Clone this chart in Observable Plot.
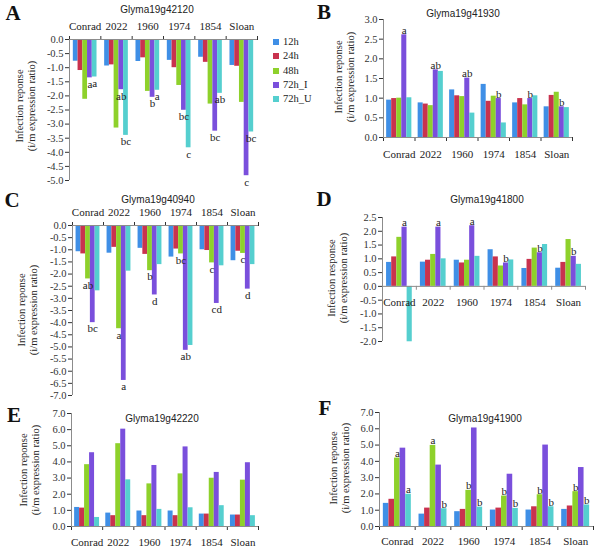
<!DOCTYPE html>
<html><head><meta charset="utf-8">
<script src="https://cdn.jsdelivr.net/npm/d3@7"></script>
<script src="https://cdn.jsdelivr.net/npm/@observablehq/plot@0.6"></script>
<style>
body{margin:0;background:#fff;}
#root{position:relative;width:600px;height:555px;overflow:hidden;background:#fff;}
.letter{position:absolute;font-family:"Liberation Serif","Times New Roman",serif;font-weight:bold;font-size:21px;line-height:1;transform:translate(-50%,-50%);color:#111;}
.title{position:absolute;font-family:"Liberation Sans",Arial,sans-serif;font-size:10px;white-space:nowrap;transform:translate(-50%,-50%);color:#222;}
.ylab{position:absolute;font-family:"Liberation Serif","Times New Roman",serif;font-size:10.5px;line-height:12px;text-align:center;white-space:nowrap;transform:translate(-50%,-50%) rotate(-90deg);color:#222;}
.leg{position:absolute;font-family:"Liberation Serif","Times New Roman",serif;font-size:10.5px;line-height:12px;color:#222;white-space:nowrap;}
.sw{position:absolute;width:6px;height:6px;}
svg{position:absolute;}
svg text{font-family:"Liberation Serif","Times New Roman",serif;}
</style></head><body><div id="root"></div><script>
const cultivars = ["Conrad", "2022", "1960", "1974", "1854", "Sloan"];
const seriesNames = ["12h", "24h", "48h", "72h_I", "72h_U"];
const seriesColors = ["#3f8fe6", "#c9324e", "#8ed12b", "#7a4fdc", "#55cfcf"];

// Panel A - Glyma19g42120
const a12h = [-0.77, -0.94, -0.78, -0.74, -0.63, -0.92];
const a24h = [-1.10, -0.90, -0.65, -1.00, -0.81, -0.95];
const a48h = [-2.12, -3.14, -1.84, -1.63, -2.29, -2.23];
const a72hI = [-1.36, -1.78, -2.05, -2.51, -3.25, -4.83];
const a72hU = [-1.33, -3.40, -1.80, -3.84, -1.91, -3.28];
const aSigI = ["a", "ab", "b", "bc", "bc", "c"];
const aSigU = ["a", "bc", "a", "c", "ab", "bc"];
const yTicksA = [0, -0.5, -1, -1.5, -2, -2.5, -3, -3.5, -4, -4.5, -5];

// Panel B - Glyma19g41930
const b12h = [0.95, 0.88, 1.21, 1.35, 0.88, 0.78];
const b24h = [0.99, 0.85, 1.06, 0.92, 0.99, 1.07];
const b48h = [1.00, 0.81, 1.04, 1.05, 0.83, 1.15];
const b72hI = [2.61, 1.72, 1.51, 0.99, 0.99, 0.78];
const b72hU = [1.01, 1.68, 0.62, 0.37, 1.06, 0.76];
const bSigI = ["a", "ab", "ab", "b", "b", "b"];
const yTicksB = [0, 0.5, 1, 1.5, 2, 2.5, 3];

// Panel C - Glyma19g40940
const c12h = [-1.08, -1.14, -0.94, -1.30, -1.00, -1.45];
const c24h = [-1.17, -0.90, -1.19, -0.97, -1.03, -1.06];
const c48h = [-2.20, -4.25, -1.86, -1.17, -1.54, -1.15];
const c72hI = [-4.00, -6.38, -2.86, -5.14, -3.21, -2.62];
const c72hU = [-2.69, -1.88, -1.61, -4.94, -1.66, -1.61];
const cSig48 = ["ab", "a", "b", "bc", "c", "c"];
const cSigI = ["bc", "a", "d", "ab", "cd", "d"];
const yTicksC = [0, -0.5, -1, -1.5, -2, -2.5, -3, -3.5, -4, -4.5, -5, -5.5, -6, -6.5, -7];

// Panel D - Glyma19g41800
const d12h = [0.87, 0.88, 0.95, 1.33, 0.65, 0.66];
const d24h = [1.07, 0.95, 0.85, 1.07, 0.98, 0.87];
const d48h = [1.78, 1.16, 0.95, 0.74, 1.39, 1.70];
const d72hI = [2.15, 2.15, 2.20, 0.85, 1.22, 1.09];
const d72hU = [-2.01, 1.00, 1.09, 0.96, 1.52, 0.80];
const dSigI = ["a", "a", "a", "b", "b", "b"];
const yTicksD = [2.5, 2, 1.5, 1, 0.5, 0, -0.5, -1, -1.5, -2];

// Panel E - Glyma19g42220
const e12h = [1.18, 0.83, 0.96, 0.96, 0.77, 0.71];
const e24h = [1.14, 0.67, 0.67, 0.67, 0.77, 0.71];
const e48h = [3.83, 5.13, 2.64, 3.26, 2.99, 2.87];
const e72hI = [4.57, 6.03, 3.78, 4.93, 3.35, 3.95];
const e72hU = [0.56, 2.89, 1.06, 1.16, 1.29, 0.67];
const yTicksE = [0, 1, 2, 3, 4, 5, 6, 7];

// Panel F - Glyma19g41900
const f12h = [1.42, 0.76, 0.91, 1.01, 1.01, 1.05];
const f24h = [1.67, 1.13, 1.05, 1.13, 1.21, 1.26];
const f48h = [4.20, 4.98, 2.22, 1.87, 1.95, 2.14];
const f72hI = [4.81, 3.77, 6.05, 3.21, 5.00, 3.62];
const f72hU = [1.98, 1.09, 1.19, 1.11, 1.21, 1.32];
const fSig48 = ["a", "a", "b", "b", "b", "b"];
const fSigU = ["a", "b", "b", "b", "b", "b"];
const yTicksF = [0, 1, 2, 3, 4, 5, 6, 7];

const root = document.getElementById("root");
const serifStack = "'Liberation Serif', 'Times New Roman', serif";

function makePanel(p) {
  const data = [];
  p.values.forEach((arr, si) => arr.forEach((v, gi) => data.push({
    gi, si, series: seriesNames[si], value: v,
    label: p.labels[si] ? p.labels[si][gi] : null
  })));
  const n = seriesNames.length;
  const bw = (1 - 2 * p.pad) / n;
  const x1 = d => d.gi + p.pad + d.si * bw;
  const x2 = d => d.gi + p.pad + (d.si + 1) * bw;
  const xc = d => d.gi + p.pad + (d.si + 0.5) * bw;
  const below = p.labelSide === "below";
  const marks = [
    Plot.rect(data, {x1, x2, y1: () => 0, y2: "value", fill: "series"}),
    Plot.ruleX([0], {stroke: "#8c8c8c"}),
    Plot.ruleY([0], {stroke: "#8c8c8c"}),
    Plot.text(data.filter(d => d.label), {
      x: xc, y: "value", text: "label",
      lineAnchor: below ? "top" : "bottom", dy: below ? 2 : -1,
      fontSize: 11, fill: "#222", fontFamily: serifStack
    }),
    Plot.text(cultivars, {x: (d, i) => i + 0.5, y: () => 0, text: d => d, dy: p.groupDy, fontSize: 11, fill: "#222", fontFamily: serifStack})
  ];
  if (p.xAxis === "zero") {
    marks.push(Plot.ruleX(d3.range(1, cultivars.length + 1), {x: d => d, y1: () => 0, y2: () => p.zeroTick, stroke: "#8c8c8c"}));
  }
  const svg = Plot.plot({
    width: p.width, height: p.height,
    marginLeft: p.mL, marginRight: p.mR, marginTop: p.mT, marginBottom: p.mB,
    style: {fontFamily: serifStack, fontSize: "10.5px", color: "#333", background: "transparent", overflow: "visible"},
    x: {domain: [0, cultivars.length], axis: p.xAxis === "zero" ? null : p.xAxis, ticks: cultivars.length, tickSize: 4, tickFormat: () => "", label: null},
    y: {domain: p.yDomain, ticks: p.yTicks, tickFormat: d => d.toFixed(1), tickSize: 4, tickPadding: 2, label: null},
    color: {domain: seriesNames, range: seriesColors},
    marks
  });
  svg.style.left = p.left + "px";
  svg.style.top = p.top + "px";
  root.appendChild(svg);
}

function addDiv(cls, text, x, y, html) {
  const d = document.createElement("div");
  d.className = cls;
  if (html) d.innerHTML = text; else d.textContent = text;
  d.style.left = x + "px";
  d.style.top = y + "px";
  root.appendChild(d);
}

// A
makePanel({left: 0, top: 0, width: 265, height: 190, mL: 69, mR: 8, mT: 39, mB: 10,
  yDomain: [-5, 0], yTicks: yTicksA, values: [a12h, a24h, a48h, a72hI, a72hU],
  labels: {3: aSigI, 4: aSigU}, labelSide: "below", pad: 0.122, groupDy: -13, xAxis: "top"});
// B
makePanel({left: 300, top: 0, width: 280, height: 170, mL: 83, mR: 8, mT: 19, mB: 33,
  yDomain: [0, 3], yTicks: yTicksB, values: [b12h, b24h, b48h, b72hI, b72hU],
  labels: {3: bSigI}, labelSide: "above", pad: 0.1, groupDy: 17, xAxis: "bottom"});
// C
makePanel({left: 0, top: 185, width: 265, height: 215, mL: 72, mR: 7, mT: 40, mB: 5,
  yDomain: [-7, 0], yTicks: yTicksC, values: [c12h, c24h, c48h, c72hI, c72hU],
  labels: {2: cSig48, 3: cSigI}, labelSide: "below", pad: 0.115, groupDy: -13, xAxis: "top"});
// D
makePanel({left: 300, top: 185, width: 292, height: 170, mL: 82, mR: 7, mT: 32, mB: 14,
  yDomain: [-2, 2.5], yTicks: yTicksD, values: [d12h, d24h, d48h, d72hI, d72hU],
  labels: {3: dSigI}, labelSide: "above", pad: 0.12, groupDy: 16, xAxis: "zero", zeroTick: -0.14});
// E
makePanel({left: 0, top: 380, width: 265, height: 175, mL: 71, mR: 7, mT: 33, mB: 29,
  yDomain: [0, 7], yTicks: yTicksE, values: [e12h, e24h, e48h, e72hI, e72hU],
  labels: {}, labelSide: "above", pad: 0.1, groupDy: 16, xAxis: "bottom"});
// F
makePanel({left: 300, top: 380, width: 300, height: 175, mL: 79, mR: 7, mT: 32, mB: 29,
  yDomain: [0, 7], yTicks: yTicksF, values: [f12h, f24h, f48h, f72hI, f72hU],
  labels: {2: fSig48, 4: fSigU}, labelSide: "above", pad: 0.108, groupDy: 15, xAxis: "bottom"});

// Panel letters
addDiv("letter", "A", 13, 13);
addDiv("letter", "B", 324, 12);
addDiv("letter", "C", 12, 200);
addDiv("letter", "D", 324, 199);
addDiv("letter", "E", 14, 415);
addDiv("letter", "F", 325, 408);

// Titles
addDiv("title", "Glyma19g42120", 157, 9);
addDiv("title", "Glyma19g41930", 463, 13);
addDiv("title", "Glyma19g40940", 158, 199);
addDiv("title", "Glyma19g41800", 487, 199);
addDiv("title", "Glyma19g42220", 162, 418);
addDiv("title", "Glyma19g41900", 485, 418);

// Y labels
const yl = "Infection reponse<br>(i/m expression ratio)";
addDiv("ylab", yl, 26, 106, true);
addDiv("ylab", yl, 345, 77, true);
addDiv("ylab", yl, 28, 310, true);
addDiv("ylab", "Infection response<br>(i/m expression ratio)", 338, 278, true);
addDiv("ylab", yl, 30, 470, true);
addDiv("ylab", yl, 340, 468, true);

// Legend (panel A)
seriesNames.forEach((s, i) => {
  const y = 42 + i * 14.3;
  const sw = document.createElement("div");
  sw.className = "sw";
  sw.style.left = "273px";
  sw.style.top = (y - 3) + "px";
  sw.style.background = seriesColors[i];
  root.appendChild(sw);
  addDiv("leg", s, 283, y - 6);
});
</script></body></html>
